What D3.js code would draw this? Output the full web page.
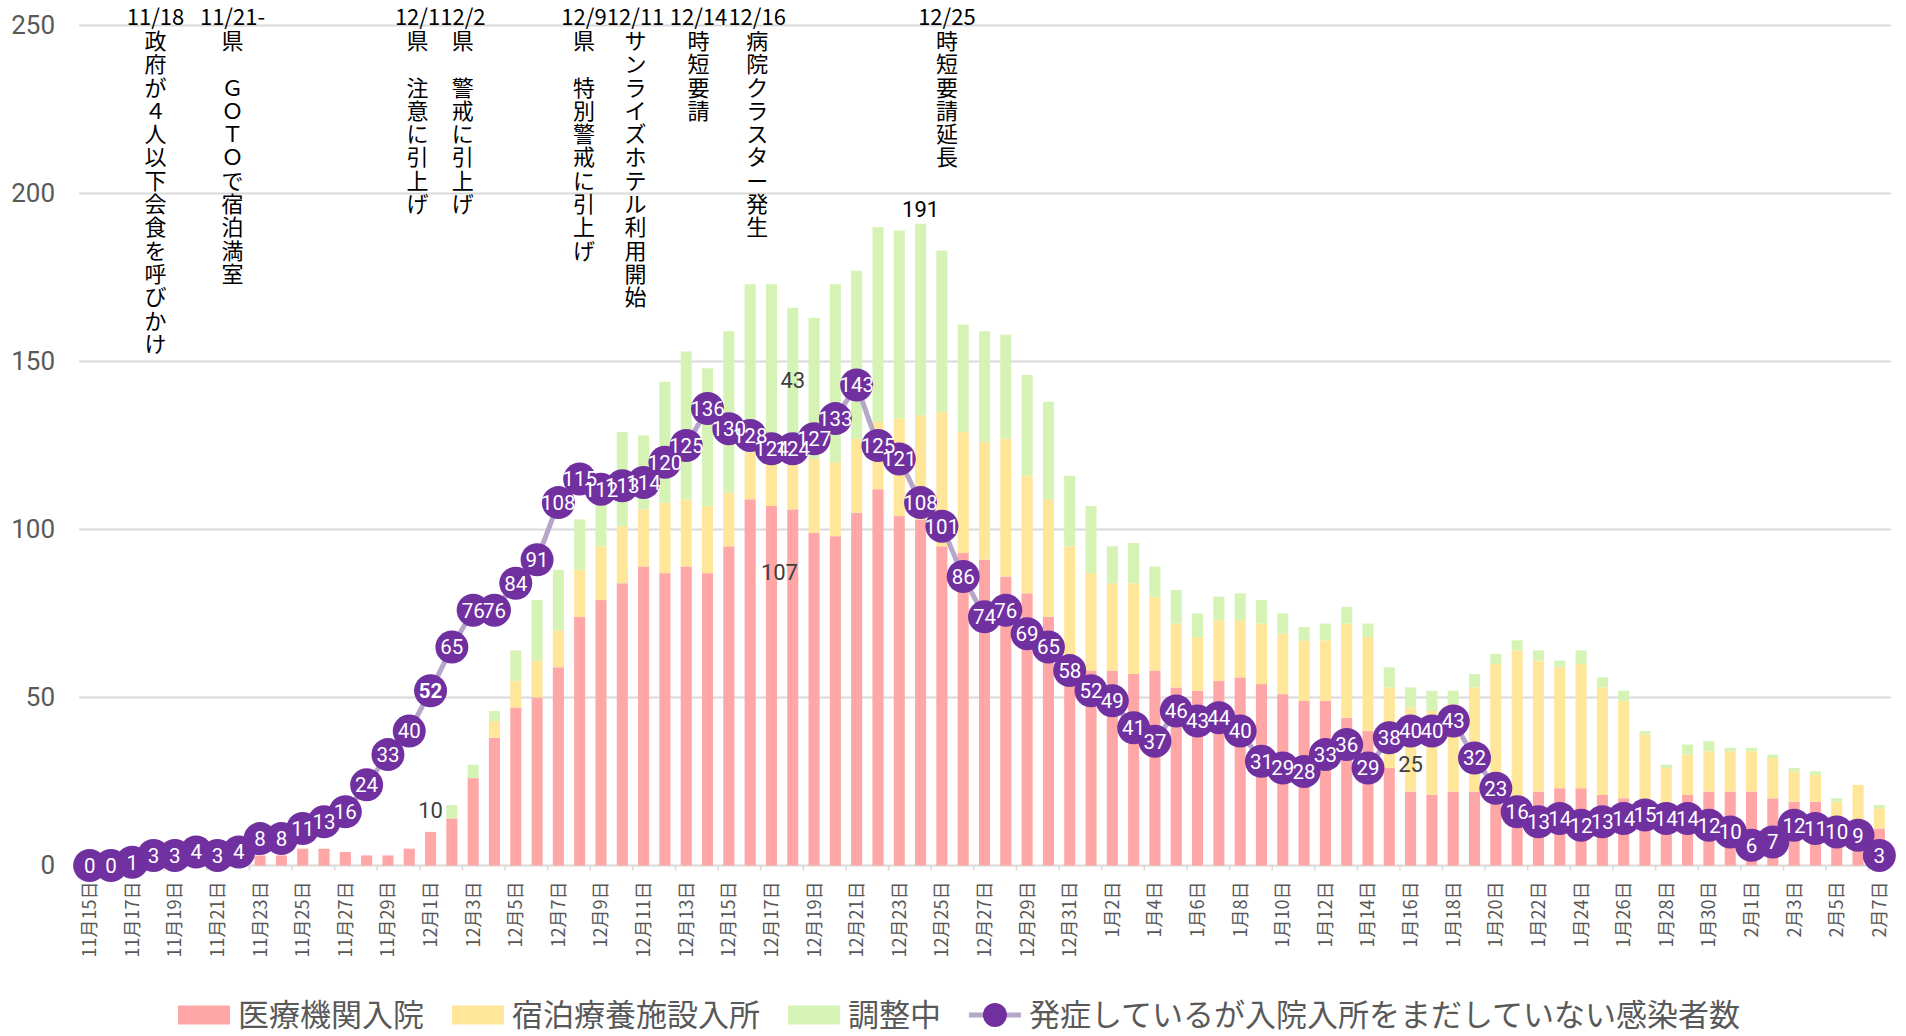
<!DOCTYPE html>
<html>
<head>
<meta charset="utf-8">
<script src="https://cdn.jsdelivr.net/npm/d3@7"></script>
<style>
  body { margin: 0; background: #fff; }
  svg { display: block; }
</style>
</head>
<body>
<svg id="chart" width="1906" height="1036"></svg>
<script>
// categories
const dates = [
  '11月15日','11月16日','11月17日','11月18日','11月19日','11月20日','11月21日','11月22日',
  '11月23日','11月24日','11月25日','11月26日','11月27日','11月28日','11月29日','11月30日',
  '12月1日','12月2日','12月3日','12月4日','12月5日','12月6日','12月7日','12月8日','12月9日','12月10日',
  '12月11日','12月12日','12月13日','12月14日','12月15日','12月16日','12月17日','12月18日','12月19日','12月20日',
  '12月21日','12月22日','12月23日','12月24日','12月25日','12月26日','12月27日','12月28日','12月29日','12月30日','12月31日',
  '1月1日','1月2日','1月3日','1月4日','1月5日','1月6日','1月7日','1月8日','1月9日','1月10日',
  '1月11日','1月12日','1月13日','1月14日','1月15日','1月16日','1月17日','1月18日','1月19日','1月20日',
  '1月21日','1月22日','1月23日','1月24日','1月25日','1月26日','1月27日','1月28日','1月29日','1月30日','1月31日',
  '2月1日','2月2日','2月3日','2月4日','2月5日','2月6日','2月7日'
]

// 医療機関入院
const hospital = [
  0,0,0,1,1,2,2,2,3,3,5,5,4,3,3,5,
  10,14,26,38,47,50,59,74,79,84,89,87,89,87,95,109,107,106,99,98,105,112,104,103,95,93,91,86,81,74,62,
  58,58,57,58,53,52,55,56,54,51,49,49,44,40,29,22,21,22,22,21,20,22,23,23,21,20,19,18,21,22,22,
  22,20,19,19,8,6,11
]
// 宿泊療養施設入所
const hotel = [
  0,0,0,0,0,0,0,0,0,0,0,0,0,0,0,0,
  0,0,0,5,8,11,11,14,16,17,17,21,20,20,16,14,16,17,22,22,22,20,29,31,40,36,35,41,35,35,33,
  29,26,27,22,19,16,18,17,18,18,18,18,28,28,24,25,25,26,31,39,44,39,36,37,32,29,20,11,12,12,12,
  12,12,9,8,11,18,6
]
// 調整中
const pending = [
  0,0,0,0,0,0,0,0,0,0,0,0,0,0,0,0,
  0,4,4,3,9,18,18,15,17,28,22,36,44,41,48,50,50,43,42,53,50,58,56,57,48,32,33,31,30,29,21,
  20,11,12,9,10,7,7,8,7,6,4,5,5,4,6,6,6,4,4,3,3,3,2,4,3,3,1,1,3,3,1,
  1,1,1,1,1,0,1
]
// 発症しているが入院入所をまだしていない感染者数
const untreated = [
  0,0,1,3,3,4,3,4,8,8,11,13,16,24,33,40,
  52,65,76,76,84,91,108,115,112,113,114,120,125,136,130,128,124,124,127,133,143,125,121,108,101,86,74,76,69,65,58,
  52,49,41,37,46,43,44,40,31,29,28,33,36,29,38,40,40,43,32,23,16,13,14,12,13,14,15,14,14,12,10,
  6,7,12,11,10,9,3
]

const yTicks = [0, 50, 100, 150, 200, 250]
const barKeys = ['hospital', 'hotel', 'pending']
const barNames = ['医療機関入院', '宿泊療養施設入所', '調整中']
const lineName = '発症しているが入院入所をまだしていない感染者数'

// events written above the chart
const eventDays = ['11月18日', '11月21日', '12月1日', '12月2日', '12月9日', '12月11日', '12月14日', '12月16日', '12月25日']
const eventLabels = ['11/18', '11/21-', '12/1', '12/2', '12/9', '12/11', '12/14', '12/16', '12/25']
const eventTexts = [
  '政府が４人以下会食を呼びかけ',
  '県　ＧＯＴＯで宿泊満室',
  '県　注意に引上げ',
  '県　警戒に引上げ',
  '県　特別警戒に引上げ',
  'サンライズホテル利用開始',
  '時短要請',
  '病院クラスター発生',
  '時短要請延長'
]

// the few data labels left on the bars
const noteDays = ['12月1日', '12月17日', '12月18日', '12月24日', '1月16日']
const noteTexts = ['10', '107', '43', '191', '25']

const colors = { hospital: '#ffa6a6', hotel: '#ffe699', pending: '#d6f3b6' }
const dotColor = '#7030a0'
const lineColor = '#b5a6ca'

const svg = d3.select('#chart')
const plotLeft = 79, plotRight = 1890
const yBase = 865.5, yTop = 25.5

let x = d3.scaleBand().domain(dates).range([plotLeft, plotRight]).paddingInner(0.48).paddingOuter(0.24)
let y = d3.scaleLinear().domain([0, 250]).range([yBase, yTop])
const step = x.step()
const cx = (d) => x(d) + x.bandwidth() / 2

// gridlines
svg.append('g')
  .selectAll('line')
  .data(yTicks)
  .enter()
  .append('line')
  .attr('x1', plotLeft)
  .attr('x2', plotRight + 1)
  .attr('y1', (d) => y(d))
  .attr('y2', (d) => y(d))
  .attr('stroke', '#d9d9d9')
  .attr('stroke-width', 2)

// y axis labels
let yAxis = svg.append('g')
  .attr('transform', 'translate(58,0)')
  .call(d3.axisLeft(y).tickValues(yTicks).tickSize(0).tickPadding(3))
yAxis.select('.domain').remove()
yAxis.selectAll('text')
  .style('font-family', 'Roboto, sans-serif')
  .style('font-size', '26px')
  .attr('fill', '#595959')

// x axis: labels every other day, ticks between pairs
let xAxis = svg.append('g')
  .attr('transform', `translate(0,${yBase})`)
  .call(d3.axisBottom(x).tickValues(dates.filter((d, i) => i % 2 == 0)).tickSize(0))
xAxis.select('.domain').remove()
xAxis.selectAll('text')
  .attr('transform', 'rotate(-90)')
  .attr('text-anchor', 'end')
  .attr('x', -16)
  .attr('y', 0)
  .attr('dy', '0.36em')
  .style('font-family', '"Noto Sans CJK JP", sans-serif')
  .style('font-size', '18px')
  .attr('fill', '#595959')

svg.append('g')
  .selectAll('line')
  .data(dates.filter((d, i) => i % 2 == 0))
  .enter()
  .append('line')
  .attr('x1', (d) => x(d) - step * 0.24)
  .attr('x2', (d) => x(d) - step * 0.24)
  .attr('y1', yBase)
  .attr('y2', yBase + 5)
  .attr('stroke', '#d9d9d9')
  .attr('stroke-width', 1.5)

// stacked bars
let rows = dates.map((d, i) => ({ day: d, hospital: hospital[i], hotel: hotel[i], pending: pending[i] }))
let stacked = d3.stack().keys(barKeys)(rows)

svg.append('g')
  .selectAll('g')
  .data(stacked)
  .enter()
  .append('g')
  .attr('fill', (s) => colors[s.key])
  .selectAll('rect')
  .data((s) => s)
  .enter()
  .append('rect')
  .attr('x', (d) => x(d.data.day))
  .attr('width', x.bandwidth())
  .attr('y', (d) => y(d[1]))
  .attr('height', (d) => y(d[0]) - y(d[1]))

// bar data labels
const rowOf = (day) => rows[dates.indexOf(day)]
const notePos = {
  '10': (r) => y(r.hospital) - 22,
  '107': (r) => y(r.hospital) + 66,
  '43': (r) => (y(r.hospital + r.hotel) + y(r.hospital + r.hotel + r.pending)) / 2,
  '191': (r) => y(r.hospital + r.hotel + r.pending) - 15,
  '25': (r) => (y(r.hospital) + y(r.hospital + r.hotel)) / 2 + 14
}
svg.append('g')
  .selectAll('text')
  .data(noteDays)
  .enter()
  .append('text')
  .attr('x', (d, i) => cx(d) + (noteTexts[i] == '107' ? 8 : 0))
  .attr('y', (d, i) => notePos[noteTexts[i]](rowOf(d)))
  .attr('dy', '0.36em')
  .attr('text-anchor', 'middle')
  .style('font-family', 'Roboto, sans-serif')
  .style('font-size', '22px')
  .attr('fill', (d, i) => (noteTexts[i] == '191' ? '#000' : '#404040'))
  .text((d, i) => noteTexts[i])

// line with dots
let linePts = dates.map((d, i) => ({ day: d, v: untreated[i] }))
svg.append('path')
  .datum(linePts)
  .attr('d', d3.line().x((d) => cx(d.day)).y((d) => y(d.v)))
  .attr('fill', 'none')
  .attr('stroke', lineColor)
  .attr('stroke-width', 5)

svg.append('g')
  .selectAll('circle')
  .data(linePts)
  .enter()
  .append('circle')
  .attr('cx', (d) => cx(d.day))
  .attr('cy', (d) => y(d.v))
  .attr('r', 16.5)
  .attr('fill', dotColor)

svg.append('g')
  .selectAll('text')
  .data(linePts)
  .enter()
  .append('text')
  .attr('x', (d) => cx(d.day))
  .attr('y', (d) => y(d.v))
  .attr('dy', '0.36em')
  .attr('text-anchor', 'middle')
  .style('font-family', 'Roboto, sans-serif')
  .style('font-size', '20.5px')
  .style('font-weight', (d) => (d.day == '12月1日' ? 'bold' : 'normal'))
  .attr('fill', '#fff')
  .text((d) => d.v)

// event annotations (hand placed boxes in the original, so nudged a little)
const eventNudge = [2, 15, -13, 11, -17, -8, -9, 7, 5]
let ev = svg.append('g')
  .style('font-family', '"Noto Sans CJK JP", sans-serif')
  .style('font-size', '22px')
  .attr('fill', '#000')
eventDays.forEach((day, i) => {
  let ex = cx(day) + eventNudge[i]
  ev.append('text')
    .attr('x', ex)
    .attr('y', 25)
    .attr('text-anchor', 'middle')
    .text(eventLabels[i])
  Array.from(eventTexts[i]).forEach((ch, k) => {
    ev.append('text')
      .attr('x', ex)
      .attr('y', 41 + k * 23.3)
      .attr('dy', '0.36em')
      .attr('text-anchor', 'middle')
      .text(ch)
  })
})

// legend
let legend = svg.append('g')
  .style('font-family', '"Noto Sans CJK JP", sans-serif')
  .style('font-size', '31px')
let legY = 1015
let items = barNames.map((n, i) => ({ name: n, key: barKeys[i] })).concat([{ name: lineName, key: 'line' }])
let keyW = 52, keyGap = 8, itemGap = 28
let widths = items.map((it) => {
  let t = legend.append('text').text(it.name)
  let w = t.node().getComputedTextLength()
  t.remove()
  return w
})
let total = d3.sum(widths) + items.length * (keyW + keyGap) + (items.length - 1) * itemGap
let lx = 959 - total / 2
items.forEach((it, i) => {
  if (it.key == 'line') {
    legend.append('line')
      .attr('x1', lx).attr('x2', lx + keyW)
      .attr('y1', legY).attr('y2', legY)
      .attr('stroke', lineColor).attr('stroke-width', 5)
    legend.append('circle')
      .attr('cx', lx + keyW / 2).attr('cy', legY).attr('r', 12)
      .attr('fill', dotColor)
  } else {
    legend.append('rect')
      .attr('x', lx).attr('y', legY - 9.5)
      .attr('width', keyW).attr('height', 19)
      .attr('fill', colors[it.key])
  }
  legend.append('text')
    .attr('x', lx + keyW + keyGap)
    .attr('y', legY)
    .attr('dy', '0.36em')
    .attr('fill', '#595959')
    .text(it.name)
  lx += keyW + keyGap + widths[i] + itemGap
})
</script>
</body>
</html>
